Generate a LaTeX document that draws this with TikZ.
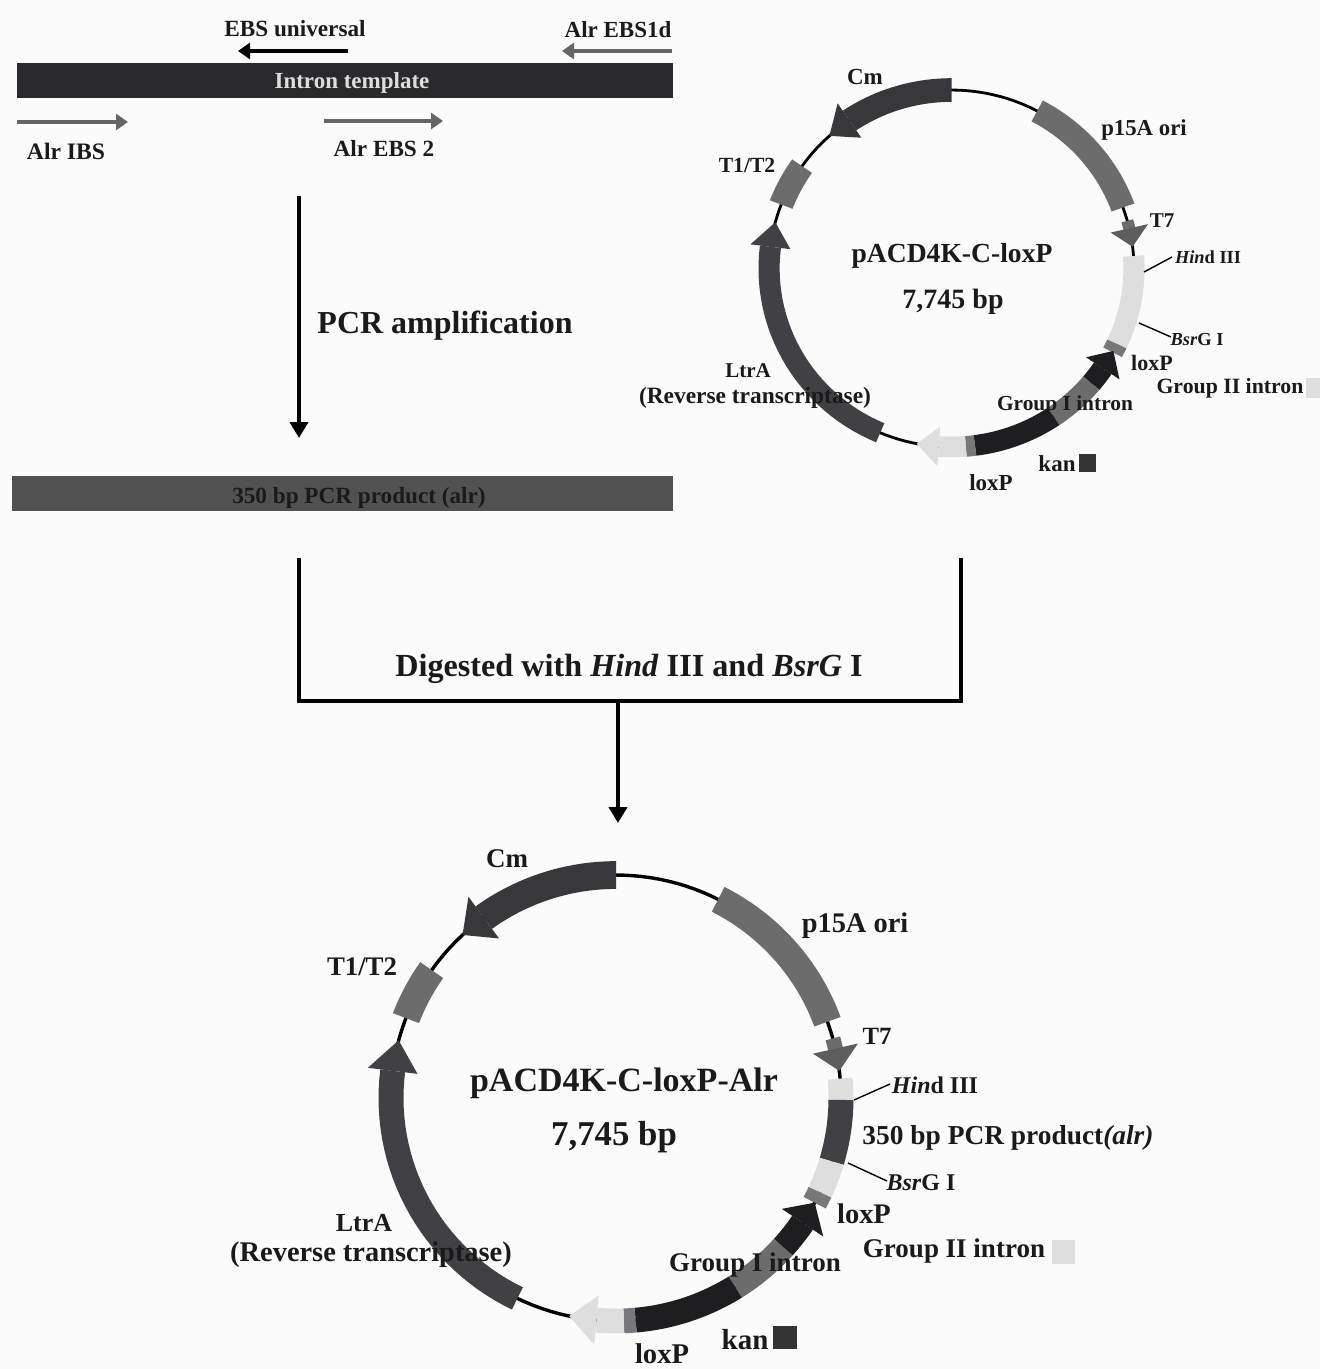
\documentclass[tikz,border=0pt]{standalone}
\usepackage{fontspec}
\setmainfont{Liberation Serif}
\usetikzlibrary{arrows.meta}
\definecolor{bgc}{HTML}{FBFBFB}
\definecolor{darkband}{HTML}{38383C}
\definecolor{ltrband}{HTML}{414145}
\definecolor{midband}{HTML}{6C6C6C}
\definecolor{lightband}{HTML}{DEDEDE}
\definecolor{blackband}{HTML}{1E1E20}
\definecolor{loxband}{HTML}{77777C}
\definecolor{primer}{HTML}{666666}
\definecolor{txt}{HTML}{1A1A1A}
\newcommand\fsz[1]{\fontsize{#1pt}{#1pt}\selectfont\bfseries}
\newcommand\bandseg[4]{%
  \fill[#1] plot[domain=#2:#3,samples=30,variable=\t] ({(\RR+#4)*cos(\t-90)},{(\RR+#4)*sin(\t-90)})
    -- plot[domain=#3:#2,samples=30,variable=\t] ({(\RR-#4)*cos(\t-90)},{(\RR-#4)*sin(\t-90)}) -- cycle;}
\newcommand\bandhead[4]{%
  \fill[#1] ({(\RR+#4)*cos(#2-90)},{(\RR+#4)*sin(#2-90)})
    -- ({\RR*cos(#3-90)},{\RR*sin(#3-90)})
    -- ({(\RR-#4)*cos(#2-90)},{(\RR-#4)*sin(#2-90)}) -- cycle;}
\newcommand\ringline[1]{%
  \draw[line width=#1,black] plot[domain=0:360,samples=160,variable=\t] ({\RR*cos(\t-90)},{\RR*sin(\t-90)}) -- cycle;}
\tikzset{
  x=0.5pt,y=-0.5pt,
  lab/.style={inner sep=0pt,outer sep=0pt,text=txt,anchor=center,yshift=-1.2pt,font=\fsz{#1}},
  primerarrow/.style={line width=2pt,primer,-{Triangle[length=6pt,width=8pt]}},
  blackprimer/.style={line width=2pt,black,-{Triangle[length=6pt,width=8pt]}},
  flowarrow/.style={line width=2.4pt,black,-{Triangle[length=8pt,width=9pt]}},
  bracket/.style={line width=2.4pt,black,line cap=butt,line join=miter},
  siteline/.style={line width=0.7pt,black},
}
\begin{document}
\begin{tikzpicture}
\fill[bgc] (0,0) rectangle (1320,1369);
\useasboundingbox (0,0) rectangle (1320,1369);

% ---- template section
\fill[darkband!75!black] (17,63) rectangle (673,98);
\node[lab=11.5,text=lightband] (intron) at (352,81) {Intron template};
\node[lab=11.6] (ebsu) at (295,26) {EBS universal};
\node[lab=11.5] (ebs1d) at (618,27) {Alr EBS1d};
\node[lab=11.8] (ibs) at (66,149) {Alr IBS};
\node[lab=11.6] (ebs2) at (384,146) {Alr EBS 2};
\coordinate (eu1) at (348,51); \coordinate (eu2) at (238,51);
\coordinate (e11) at (672,51); \coordinate (e12) at (562,51);
\coordinate (ib1) at (17,122); \coordinate (ib2) at (128,122);
\coordinate (e21) at (324,121); \coordinate (e22) at (443,121);
\draw[blackprimer] (eu1) -- (eu2);
\draw[primerarrow] (e11) -- (e12);
\draw[primerarrow] (ib1) -- (ib2);
\draw[primerarrow] (e21) -- (e22);

% ---- PCR step
\coordinate (pcr1) at (299,196); \coordinate (pcr2) at (299,438);
\draw[flowarrow] (pcr1) -- (pcr2);
\node[lab=16] (pcrlab) at (445,323) {PCR amplification};
\fill[midband!75!black] (12,476) rectangle (673,511);
\node[lab=11.6] (prod) at (359,496) {350 bp PCR product (alr)};

% ---- digest
\coordinate (b1) at (299,558); \coordinate (b2) at (299,701);
\coordinate (b3) at (961,701); \coordinate (b4) at (961,558);
\coordinate (d1) at (618,701); \coordinate (d2) at (618,823);
\draw[bracket] (b1) -- (b2) -- (b3) -- (b4);
\draw[flowarrow] (d1) -- (d2);
\node[lab=16.1] (dig) at (629,666) {Digested with \textit{Hind} III and \textit{BsrG} I};

% ---- plasmid 1
\begin{scope}[shift={(951.5,268.5)},xscale=1.008,yscale=0.986]
\def\RR{181}
\ringline{1.4pt}
\bandseg{darkband}{-34}{0}{12}
\bandhead{darkband}{-34}{-42}{21}
\bandseg{midband}{28}{70}{12}
\bandseg{midband}{74.5}{78}{6}
\bandhead{midband!110!white}{77}{83}{19}
\bandseg{lightband}{86}{115}{10.5}
\bandseg{loxband}{115}{118}{10.5}
\bandseg{blackband}{124}{130}{10.5}
\bandhead{blackband}{124}{117.5}{20}
\bandseg{midband}{130}{146}{10.5}
\bandseg{blackband}{146}{172.6}{10.5}
\bandseg{loxband}{172.6}{175.5}{10.5}
\bandseg{lightband}{175.5}{184}{10.5}
\bandhead{lightband}{184}{191}{20}
\bandseg{ltrband}{203}{277}{10.5}
\bandhead{ltrband}{277}{285}{20}
\bandseg{midband}{291}{305}{12}
\end{scope}
\node[lab=11.5] (cm1) at (865,75) {Cm};
\node[lab=11.4] (ori1) at (1144,128) {p15A ori};
\node[lab=10.5] (t71) at (1162,218) {T7};
\node[lab=10.8] (t1t1) at (747,163) {T1/T2};
\node[lab=9.2] (hind1) at (1208,255) {\textit{Hin}d III};
\node[lab=9.2] (bsr1) at (1197,337) {\textit{Bsr}G I};
\node[lab=11] (lox1a) at (1152,361) {loxP};
\node[lab=10.9] (g21) at (1230,386) {Group II intron};
\node[lab=10.7] (g11) at (1065,403) {Group I intron};
\node[lab=10.5] (ltr1) at (748,368) {LtrA};
\node[lab=11.7] (rt1) at (755,395) {(Reverse transcriptase)};
\node[lab=11.5] (kan1) at (1057,461) {kan};
\node[lab=11.5] (lox1b) at (991,480) {loxP};
\node[lab=13.8] (name1) at (952,253) {pACD4K-C-loxP};
\node[lab=14] (size1) at (953,299) {7,745 bp};
\fill[blackband!90!white] (1079,454) rectangle (1096,472);
\fill[lightband] (1306,378) rectangle (1320,398);
\coordinate (h1a) at (1144,272); \coordinate (h1b) at (1172,257);
\coordinate (s1a) at (1139,323); \coordinate (s1b) at (1171,337);
\draw[siteline] (h1a) -- (h1b);
\draw[siteline] (s1a) -- (s1b);

% ---- plasmid 2
\begin{scope}[shift={(616,1098)},yscale=0.991]
\def\RR{225}
\ringline{1.7pt}
\bandseg{darkband}{-36}{0}{14}
\bandhead{darkband}{-36}{-43}{26}
\bandseg{midband}{27}{70}{14}
\bandseg{midband}{74.5}{78}{7.5}
\bandhead{midband!110!white}{77.2}{83}{23}
\bandseg{lightband}{85}{90.5}{12.5}
\bandseg{ltrband}{90.5}{106.5}{12.5}
\bandseg{lightband}{106.5}{115}{12.5}
\bandseg{loxband}{115}{118}{12.5}
\bandseg{blackband}{124}{132}{12.5}
\bandhead{blackband}{124}{118}{25}
\bandseg{midband}{132}{148}{12.5}
\bandseg{blackband}{148}{175}{12.5}
\bandseg{loxband}{175}{178}{12.5}
\bandseg{lightband}{178}{185}{12.5}
\bandhead{lightband}{185}{192}{25}
\bandseg{ltrband}{206}{277}{12.5}
\bandhead{ltrband}{277}{285}{25}
\bandseg{midband}{291}{305}{14}
\end{scope}
\node[lab=13.5] (cm2) at (507,856) {Cm};
\node[lab=14.2] (ori2) at (855,923) {p15A ori};
\node[lab=12.4] (t72) at (877,1034) {T7};
\node[lab=13.4] (t1t2) at (362,964) {T1/T2};
\node[lab=12] (hind2) at (935,1083) {\textit{Hin}d III};
\node[lab=12] (bsr2) at (921,1180) {\textit{Bsr}G I};
\node[lab=13.7] (pcrp2) at (1008,1135) {350 bp PCR product\textit{(alr)}};
\node[lab=14.2] (lox2a) at (864,1211) {loxP};
\node[lab=13.5] (g22) at (954,1249) {Group II intron};
\node[lab=13.5] (g12) at (755,1263) {Group I intron};
\node[lab=13] (ltr2) at (364,1221) {LtrA};
\node[lab=14.2] (rt2) at (371,1252) {(Reverse transcriptase)};
\node[lab=14.5] (kan2) at (745,1337) {kan};
\node[lab=14.3] (lox2b) at (662,1351) {loxP};
\node[lab=17] (name2) at (624,1081) {pACD4K-C-loxP-Alr};
\node[lab=17.4] (size2) at (614,1135) {7,745 bp};
\fill[blackband!90!white] (773,1326) rectangle (797,1349);
\fill[lightband] (1052,1240) rectangle (1075,1264);
\coordinate (h2a) at (854,1100); \coordinate (h2b) at (890,1084);
\coordinate (s2a) at (848,1163); \coordinate (s2b) at (887,1181);
\draw[siteline] (h2a) -- (h2b);
\draw[siteline] (s2a) -- (s2b);
\end{tikzpicture}
\end{document}
